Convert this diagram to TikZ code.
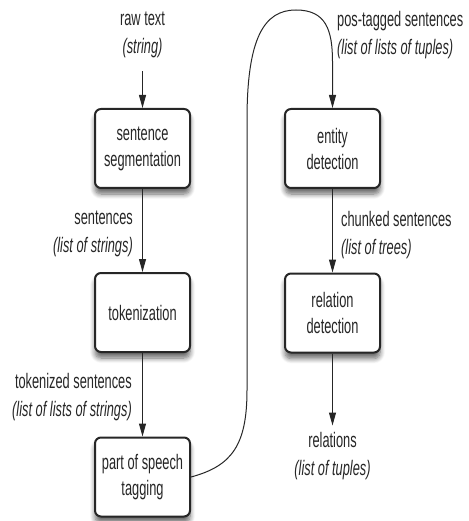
\documentclass[tikz,border=0pt]{standalone}
\usepackage{fontspec}
\setmainfont{Liberation Sans}[FakeStretch=0.61]
\usepackage{tikz}
\usetikzlibrary{positioning, shapes, arrows.meta, shadows.blur}
\definecolor{inkgray}{HTML}{262626}

\begin{document}
\begin{tikzpicture}[x=1pt, y=-1pt,
    stage/.style={draw=inkgray, line width=2pt, rounded corners=6pt, fill=white,
        minimum width=95pt, minimum height=79pt, align=center, text=inkgray,
        font=\fontsize{21}{26}\selectfont,
        blur shadow={shadow xshift=0pt, shadow yshift=-6pt, shadow blur steps=8, shadow blur radius=5pt, shadow opacity=60}},
    datalbl/.style={inner sep=0pt, text=inkgray, font=\fontsize{21}{28}\selectfont},
    flow/.style={draw=inkgray, line width=1pt, -{Triangle[length=13pt, width=7pt]}}]
    \useasboundingbox (0,0) rectangle (468,521);

    % Processing stages
    \node[stage] (segment) at (142.5,148.5) {sentence\\segmentation};
    \node[stage] (tokenize) at (142.5,312.5) {tokenization};
    \node[stage] (postag) at (142.5,477) {part of speech\\tagging};
    \node[stage] (entity) at (332.5,148.5) {entity\\detection};
    \node[stage] (relation) at (332.5,313) {relation\\detection};

    % Data passed between the stages
    \node[datalbl, align=center] (rawtext) at (142.5,35) {raw text\\\textit{(string)}};
    \node[datalbl, align=right, anchor=east] (sentlist) at (133,234) {sentences\\\textit{(list of strings)}};
    \node[datalbl, align=right, anchor=east] (toklist) at (132,397) {tokenized sentences\\\textit{(list of lists of strings)}};
    \node[datalbl, align=left, anchor=west] (taglist) at (337,35) {pos-tagged sentences\\\textit{(list of lists of tuples)}};
    \node[datalbl, align=left, anchor=west] (chunklist) at (341,235) {chunked sentences\\\textit{(list of trees)}};
    \node[datalbl, align=center] (rellist) at (332.5,456) {relations\\\textit{(list of tuples)}};

    % Arrows down the left column
    \draw[flow] (rawtext.south) ++(0,13) coordinate (rawstart) -- (segment.north);
    \draw[flow] (segment) -- (tokenize);
    \draw[flow] (tokenize) -- (postag);

    % Long curve over to the right column
    \draw[flow] (postag.east) .. controls (232,466) and (247,445) .. (247,390)
        -- (247,120) .. controls (247,38) and (264,10) .. (296,10)
        .. controls (326,10) and (332.5,30) .. (332.5,62) -- (entity.north);

    % Arrows down the right column
    \draw[flow] (entity) -- (relation);
    \draw[flow] (relation.south) -- ++(0,72) coordinate (relend);
\end{tikzpicture}
\end{document}
